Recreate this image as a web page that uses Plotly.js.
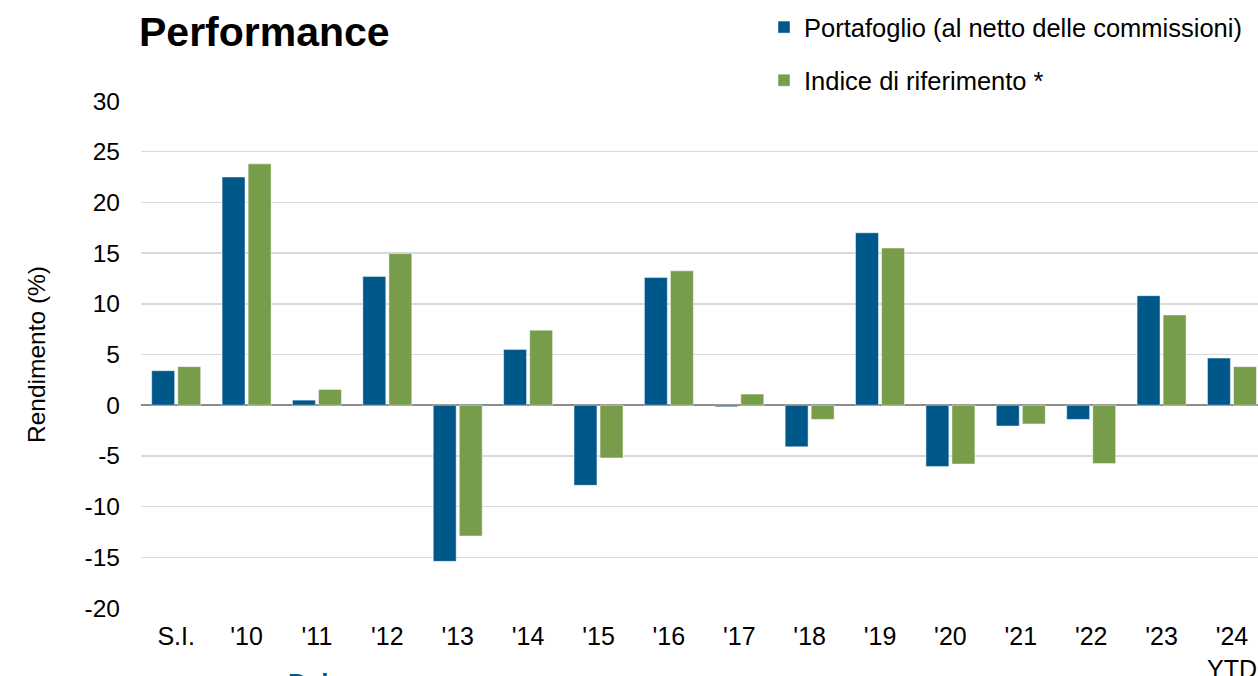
<!DOCTYPE html>
<html>
<head>
<meta charset="utf-8">
<script src="https://cdn.plot.ly/plotly-3.0.1.min.js"></script>
<style>html,body{margin:0;padding:0;background:#fff;overflow:hidden}#chart{width:1258px;height:676px}</style>
</head>
<body>
<div id="chart"></div>
<script>
const categories = ["S.I.", "'10", "'11", "'12", "'13", "'14", "'15", "'16", "'17", "'18", "'19", "'20", "'21", "'22", "'23", "'24<br>YTD"];
const portafoglio = [3.4, 22.5, 0.5, 12.7, -15.4, 5.5, -7.9, 12.6, -0.15, -4.1, 17.0, -6.05, -2.05, -1.4, 10.8, 4.65];
const indice = [3.8, 23.8, 1.55, 14.95, -12.9, 7.4, -5.2, 13.25, 1.1, -1.4, 15.5, -5.8, -1.85, -5.75, 8.9, 3.8];
const yTicks = [-20, -15, -10, -5, 0, 5, 10, 15, 20, 25, 30];

const FONT = "Liberation Sans, Arial, sans-serif";

const traces = [
  {
    type: "bar", name: "Portafoglio (al netto delle commissioni)",
    x: categories, y: portafoglio, legendgroup: "a",
    marker: {color: "#00578A", line: {color: "rgba(255,255,255,0.45)", width: 1}},
    hoverinfo: "x+y"
  },
  {
    type: "bar", name: "Indice di riferimento *",
    x: categories, y: indice, legendgroup: "b",
    marker: {color: "#789D4A", line: {color: "rgba(255,255,255,0.45)", width: 1}},
    hoverinfo: "x+y"
  }
];

const layout = {
  width: 1258, height: 676,
  margin: {l: 141, r: 0, t: 101, b: 68},
  paper_bgcolor: "#fff", plot_bgcolor: "#fff",
  font: {family: FONT, size: 25, color: "#000"},
  barmode: "group", bargap: 0.26, bargroupgap: 0.12,
  title: {
    text: "<b>Performance</b>",
    font: {family: FONT, size: 41, color: "#000"},
    xref: "container", yref: "container",
    x: 139 / 1258, xanchor: "left",
    y: 1 - 32 / 676, yanchor: "middle"
  },
  showlegend: true,
  legend: {
    x: (764 - 141) / 1117, xanchor: "left",
    y: 1 + 97 / 507, yanchor: "top",
    font: {family: FONT, size: 25.5, color: "#000"},
    traceorder: "grouped", tracegroupgap: 17,
    bgcolor: "rgba(0,0,0,0)", itemclick: false
  },
  xaxis: {
    type: "category",
    range: [-0.5, 15.37],
    showgrid: false, zeroline: false, showline: false,
    ticks: "", ticklabelstandoff: 11,
    tickfont: {family: FONT, size: 25, color: "#000"},
    fixedrange: true
  },
  yaxis: {
    range: [-20, 30],
    tickmode: "array", tickvals: yTicks, ticktext: yTicks.map(String),
    showgrid: true, gridcolor: "#d9d9d9", gridwidth: 1.5,
    zeroline: true, zerolinecolor: "#8c8c8c", zerolinewidth: 2,
    showline: false, ticks: "",
    ticklabelstandoff: 20,
    tickfont: {family: FONT, size: 24.5, color: "#000"},
    title: {text: "Rendimento (%)", font: {family: FONT, size: 24.5, color: "#000"}, standoff: 32},
    fixedrange: true
  },
  annotations: [
    {
      text: "<b>Dal</b>", xref: "paper", yref: "paper",
      x: (286 - 141) / 1117, xanchor: "left",
      y: -(666 - 608) / 507, yanchor: "top",
      showarrow: false, font: {family: FONT, size: 26, color: "#00578A"}
    }
  ]
};

Plotly.newPlot("chart", traces, layout, {displayModeBar: false, staticPlot: true});
</script>
</body>
</html>
